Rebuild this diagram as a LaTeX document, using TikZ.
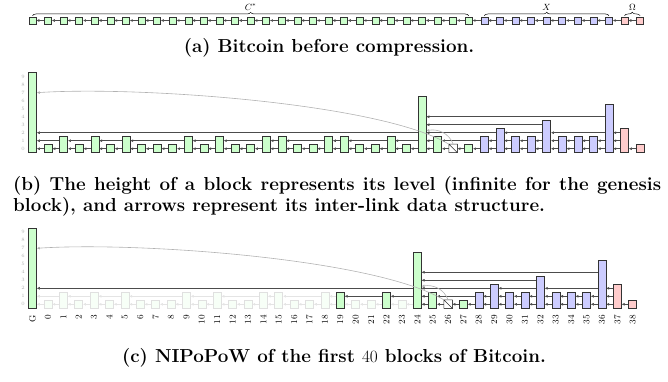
\documentclass[tikz,border=0pt]{standalone}
\usetikzlibrary{arrows.meta,decorations.pathreplacing}

\definecolor{blkgreen}{HTML}{CCFFCC}
\definecolor{blkblue}{HTML}{CCCCFF}
\definecolor{blkred}{HTML}{FFCCCC}

% name / level / fill / strength in the proof
\newcommand{\chainblocks}{G/9/blkgreen/100, 0/0/blkgreen/15, 1/1/blkgreen/15, 2/0/blkgreen/15,
  3/1/blkgreen/15, 4/0/blkgreen/15, 5/1/blkgreen/15, 6/0/blkgreen/15, 7/0/blkgreen/15,
  8/0/blkgreen/15, 9/1/blkgreen/15, 10/0/blkgreen/15, 11/1/blkgreen/15, 12/0/blkgreen/15,
  13/0/blkgreen/15, 14/1/blkgreen/15, 15/1/blkgreen/15, 16/0/blkgreen/15, 17/0/blkgreen/15,
  18/1/blkgreen/15, 19/1/blkgreen/100, 20/0/blkgreen/15, 21/0/blkgreen/15, 22/1/blkgreen/100,
  23/0/blkgreen/15, 24/6/blkgreen/100, 25/1/blkgreen/100, 26/0/blkgreen/100, 27/0/blkgreen/100,
  28/1/blkblue/100, 29/2/blkblue/100, 30/1/blkblue/100, 31/1/blkblue/100, 32/3/blkblue/100,
  33/1/blkblue/100, 34/1/blkblue/100, 35/1/blkblue/100, 36/5/blkblue/100, 37/2/blkred/100, 38/0/blkred/100}

% interlink pointers above level 0: from / to / level / strength in the proof
\newcommand{\chainlinks}{1/G/1/15, 3/1/1/15, 5/3/1/15, 9/5/1/15, 11/9/1/15, 14/11/1/15,
  15/14/1/15, 18/15/1/15, 19/18/1/15, 22/19/1/100, 24/22/1/100, 25/24/1/100, 28/25/1/100,
  29/28/1/100, 30/29/1/100, 31/30/1/100, 32/31/1/100, 33/32/1/100, 34/33/1/100, 35/34/1/100,
  36/35/1/100, 37/36/1/100, 24/G/2/100, 29/24/2/100, 32/29/2/100, 36/32/2/100, 37/36/2/100,
  32/24/3/100, 36/24/4/100}

% pointer of block #2 to block #3 at level #4
\newcommand{\ilnk}[4][]{\draw[lnk,#1] ([yshift={8pt*#4+4pt}]#2.south west) -- ([yshift={8pt*#4+4pt}]#3.south east);}

\tikzset{
  blk/.style={draw=black!80, line width=0.5pt, inner sep=0pt, minimum width=8pt, anchor=south},
  lnk/.style={-{Latex[length=3pt,width=2.8pt]}, line width=0.5pt, draw=black!70},
  ghost/.style={-{Latex[length=3pt,width=2.8pt]}, line width=0.6pt, draw=black!30},
  brc/.style={decorate, decoration={brace, amplitude=3.5pt}, line width=0.5pt},
  brclabel/.style={font=\small, inner sep=0pt, above=5pt},
  lvl/.style={font=\fontsize{5}{5}\selectfont, text=black!30, inner sep=0pt},
  tick/.style={font=\fontsize{9}{10}\selectfont, inner sep=0pt, rotate=90, anchor=east},
  capt/.style={font=\fontsize{18.8}{21}\selectfont\bfseries, inner sep=0pt},
}

\begin{document}
\begin{tikzpicture}[x=1pt, y=1pt]
  \useasboundingbox (0,0) rectangle (668,381);

  % (a) the whole chain
  \foreach \bn/\bl/\bc/\bs [count=\k from 0] in \chainblocks {
    \node[blk, anchor=center, fill=\bc, minimum width=7pt, minimum height=7pt] (a\bn) at ({32.5+15.58*\k}, 360.5) {};
  }
  \foreach \bn [remember=\bn as \bp (initially G)] in {0,...,38} {
    \draw[lnk] (a\bn) -- (a\bp);
  }
  \draw[brc] ([yshift=1pt]aG.north) -- ([yshift=1pt]a27.north) node[midway, brclabel] {$C^*$};
  \draw[brc] ([yshift=1pt]a28.north) -- ([yshift=1pt]a36.north) node[midway, brclabel] {$X$};
  \draw[brc] ([yshift=1pt]a37.north) -- ([yshift=1pt]a38.north) node[midway, brclabel] {$\Omega$};
  \node[capt, anchor=base] (capa) at (329, 328) {(a) Bitcoin before compression.};

  % (b) levels and interlinks
  \foreach \lv in {0,...,9} {
    \node[lvl] (bl\lv) at (23, {232.3+8*\lv}) {\lv};
  }
  \foreach \bn/\bl/\bc/\bs [count=\k from 0] in \chainblocks {
    \node[blk, fill=\bc, minimum height={8pt*(\bl+1)}] (b\bn) at ({32.5+15.58*\k}, 228.3) {};
  }
  \draw[blk, fill=white] (b26.south west) rectangle (b26.north east) (b26.north west) -- (b26.south east);
  \foreach \bn [remember=\bn as \bp (initially G)] in {0,...,38} {
    \ilnk{b\bn}{b\bp}{0}
  }
  \foreach \pfrom/\pto/\plev/\pst in \chainlinks {
    \ilnk{b\pfrom}{b\pto}{\plev}
  }
  \draw[ghost] (b26.north west) .. controls +(-69,41) and +(102,6.7) .. ([yshift=60pt]bG.south east);
  \draw[ghost] (b26.north) to[out=110, in=10] ([yshift=22pt]b24.south east);
  \node[capt, anchor=base west] (capb) at (13, 191)
    {\makebox[648pt][s]{(b) The height of a block represents its level (infinite for the genesis}};
  \node[capt, anchor=base west] (capbb) at (13, 169.3) {block), and arrows represent its inter-link data structure.};

  % (c) the proof
  \foreach \lv in {0,...,9} {
    \node[lvl] (cl\lv) at (23, {76.7+8*\lv}) {\lv};
  }
  \foreach \bn/\bl/\bc/\bs [count=\k from 0] in \chainblocks {
    \node[blk, fill=\bc!\bs, draw=black!80!white!\bs, minimum height={8pt*(\bl+1)}] (c\bn) at ({32.5+15.39*\k}, 72.7) {};
    \node[tick] (t\bn) at ({32.5+15.39*\k}, 66) {\bn};
  }
  \draw[blk, fill=white] (c26.south west) rectangle (c26.north east) (c26.north west) -- (c26.south east);
  \foreach \bn [remember=\bn as \bp (initially G)] in {0,...,24} {
    \ilnk[draw=black!70!white!15]{c\bn}{c\bp}{0}
  }
  \foreach \bn [remember=\bn as \bp (initially 24)] in {25,...,38} {
    \ilnk{c\bn}{c\bp}{0}
  }
  \foreach \pfrom/\pto/\plev/\pst in \chainlinks {
    \ilnk[draw=black!70!white!\pst]{c\pfrom}{c\pto}{\plev}
  }
  \draw[ghost] (c26.north west) .. controls +(-69,41) and +(102,6.7) .. ([yshift=60pt]cG.south east);
  \draw[ghost] (c26.north) to[out=110, in=10] ([yshift=22pt]c24.south east);
  \node[capt, anchor=base] (capc) at (334, 19) {(c) NIPoPoW of the first $40$ blocks of Bitcoin.};
\end{tikzpicture}
\end{document}
